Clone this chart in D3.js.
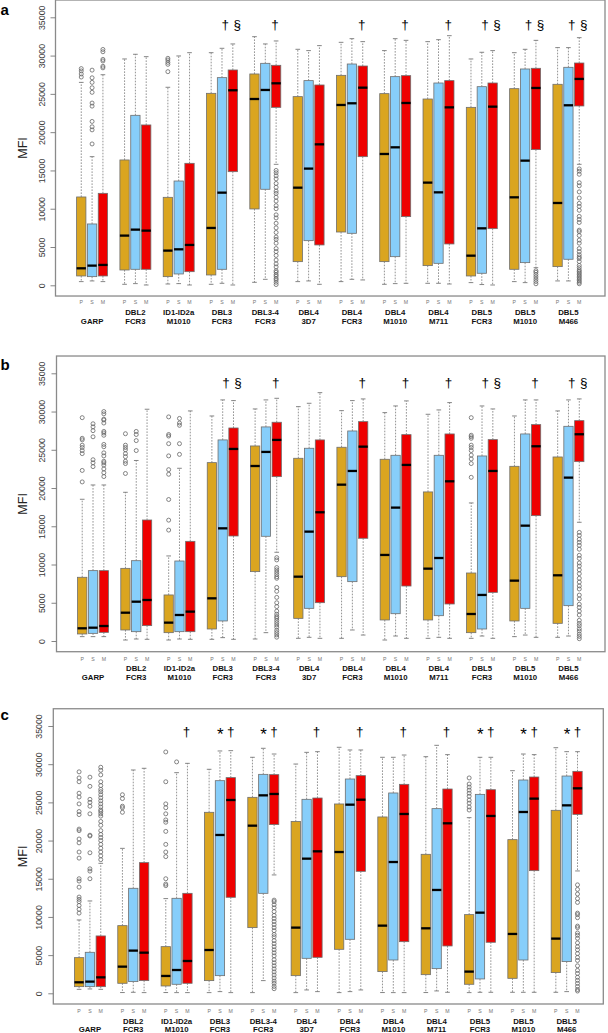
<!DOCTYPE html>
<html><head><meta charset="utf-8">
<script src="https://cdn.jsdelivr.net/npm/d3@7"></script>
<style>body{margin:0;background:#fff}svg{display:block}</style>
</head><body>
<script>
// ---------- DATA ----------
const groupLine1 = ["", "DBL2", "ID1-ID2a", "DBL3", "DBL3-4", "DBL4", "DBL4", "DBL4", "DBL4", "DBL5", "DBL5", "DBL5"];
const groupLine2 = ["GARP", "FCR3", "M1010", "FCR3", "FCR3", "3D7", "FCR3", "M1010", "M711", "FCR3", "M1010", "M466"];
const seriesNames = ["P", "S", "M"];
const yTicks = [0, 5000, 10000, 15000, 20000, 25000, 30000, 35000];

// Panel a (order: per group P,S,M)
const aLow  = [480,570,480, 130,220,40, 170,220,40, 130,260,40, 390,780,15800, 480,570,130, 480,780,700, 130,220,260, 260,260,170, 350,100,40, 480,350,2300, 570,570,15800];
const aQ1   = [1220,1130,1220, 2000,2090,2090, 1130,1480,1780, 1350,2090,14840, 9970,12540,23240, 3090,5830,5270, 6960,6790,16800, 3090,3740,8970, 2570,2870,5400, 1220,1570,7400, 2090,2960,17720, 2440,3400,23420];
const aMed  = [2220,2570,2660, 6490,7270,7140, 4530,4700,5270, 7490,12100,25470, 24330,25510,26380, 12750,15240,18410, 23550,23770,25810, 17150,18020,23810, 13410,12140,23240, 3870,7440,23330, 11490,16280,25770, 10750,23510,26950];
const aQ3   = [11535,8010,12010, 16370,22200,20940, 11490,13620,15930, 25070,27120,28120, 27600,28990,28730, 24640,26730,26160, 27420,28900,28640, 25030,27250,27380, 24330,26420,26730, 23240,25940,26420, 25680,28250,28340, 26250,28470,29030];
const aHigh = [26500,16800,27500, 29560,30170,29860, 25860,29950,30380, 30380,30950,31520, 32470,31520,31910, 30820,30650,31300, 31730,32210,31820, 30650,32210,31990, 31820,32080,32600, 29560,30430,30650, 30380,30820,31990, 31040,31040,32340];
const aOut = [
  [27200,27600,28000,28300], [18460,20300,20700,21400,23400,23800,25200,25800,26500,27100,28100], [28400,28600,29300,29500,30500,30800],
  [], [], [],
  [27900,28860,29120,29420,29640], [], [],
  [], [], [],
  [], [], [100,400,700,900,1200,1400,1700,1900,2400,2800,3300,3900,4400,4800,5500,6000,6300,6900,7500,8100,8800,9200,10000,10400,11000,11500,12000,12300,12800,13300,13900,14300,14700,15000],
  [], [], [],
  [], [], [],
  [], [], [],
  [], [], [],
  [], [], [],
  [], [], [200,500,800,1100,1400,1700,1900],
  [], [], [200,400,600,800,1000,1200,1400,1600,1800,2000,2300,2600,3100,3500,3700,4000,4400,4800,5500,5900,6500,7000,7200,8200,8600,9000,9800,10300,10700,11400,12200,13000,13400,14500,14900,15200]
];
const aMarks = ["", "", "", "†§", "†", "", "†", "†", "†", "†§", "†§", "†§"];

// Panel b
const bLow  = [570,570,570, 130,260,220, 130,260,220, 220,440,220, 260,1090,11600, 350,480,350, 350,1440,780, 130,650,350, 350,480,350, 350,650,350, 570,780,480, 480,650,15520];
const bQ1   = [920,1000,1130, 1440,1220,2010, 1090,1220,1220, 1570,2620,13730, 9070,13690,21490, 2960,4270,5010, 8410,7760,13430, 2750,3570,7190, 2750,3310,4840, 1090,1570,6360, 2620,4270,16390, 2310,4620,23450];
const bMed  = [1660,1740,1960, 3700,5140,5360, 2400,3400,3840, 5580,14730,25110, 22880,24720,26290, 8410,14300,16830, 20440,22230,25410, 11250,17440,23020, 9460,10850,20880, 3530,6020,22230, 7890,15080,25460, 8590,21360,27030];
const bQ3   = [8330,9200,9200, 9500,10500,15820, 6020,10460,13030, 23320,26290,27850, 25500,27990,28600, 23890,25200,26290, 25330,27460,28680, 23760,24280,26980, 19490,24280,27070, 8890,24190,26330, 22840,27070,28290, 24060,28070,28810];
const bHigh = [18530,20400,20400, 19440,23600,30300, 11120,22580,30080, 29420,31520,31430, 30340,31520,31730, 30640,31080,32470, 30120,31430,31650, 29860,30730,31390, 29640,30210,31170, 18050,30730,30340, 29420,31520,31520, 30080,31520,31650];
const bOut = [
  [20800,22300,24500,24900,25300,25600,26300,26500,29200], [22800,23300,23700,26700,27500,28000,28400], [21500,22000,22500,23000,23300,23500,24200,24600,25400,25700,26900,27200,27400,28500,28900,29000,29700,30000],
  [21900,23200,23500,24100,24500,25000,25300,25600,27100], [24900,26200,27000,27400], [],
  [14500,15800,18500,21800,22400,24200,25800,26800,27000,29300], [24400,25800,28200,28500,29100], [],
  [], [], [],
  [], [], [500,800,1100,1400,1800,2100,2400,2700,3000,3200,3500,3900,4500,5000,5700,6500,7000,8200,8400,8700,9000,9300,9600,10600,10900],
  [], [], [],
  [], [], [],
  [], [], [],
  [], [], [],
  [21400,23200,23800,24300,24900,25300,25600,26500,26700,26900,29200], [], [],
  [], [], [],
  [], [], [300,600,900,1300,1600,2000,2300,2700,3400,3900,4400,4800,5500,6000,6800,7200,7700,8200,8800,9300,9800,10200,10800,11200,12000,12500,12900,13300,13800,14200]
];
const bMarks = ["", "", "", "†§", "†", "", "†", "†", "†", "†§", "†", "†§"];

// Panel c
const cLow  = [520,570,520, 100,130,90, 100,90,90, 90,220,90, 90,1660,15500, 90,440,220, 90,220,440, 100,90,90, 100,310,130, 90,130,130, 130,130,130, 130,220,16020];
const cQ1   = [870,870,870, 1310,1530,1660, 960,1180,1310, 1660,2310,12570, 8600,13090,22100, 2310,4580,4710, 5760,7070,15970, 2840,4360,6760, 2440,3230,6200, 1180,1880,6680, 1960,4360,16060, 2710,4150,23430];
const cMed  = [1440,1530,2090, 3490,5590,5320, 2270,3050,4230, 5670,20730,25310, 21950,25920,26100, 8600,17630,18590, 18500,24700,25350, 8860,17190,23480, 8510,13530,22260, 2840,10560,23220, 7770,23740,25490, 7160,24610,26840];
const cQ3   = [4670,5370,7510, 8860,13750,17110, 6110,12440,13090, 23700,27840,28240, 25660,28670,28630, 22500,25400,25570, 24790,28060,28500, 23090,26230,27360, 18200,24180,26750, 10300,26050,26660, 20120,27930,28320, 23960,28450,29060];
const cHigh = [9600,12090,17020, 18980,29240,29460, 12400,28890,30110, 29330,31730,31770, 30900,32080,31330, 30020,31550,31640, 32210,31860,31860, 30900,30900,31200, 30980,32470,31250, 23000,30900,30900, 29150,31330,31250, 32160,31640,31640];
const cOut = [
  [10500,11000,11500,12000,12300,12600,13900,14700,15000,17700,18500,19700,20200,21300,21500,23400,23800,24800,25700,26200,27700,28200,29000],
  [15000,16000,16300,18400,20600,20700,23500,24500,25000,25400,27100,28300],
  [17500,18000,18500,19000,19500,20000,20400,20800,21300,22000,22500,23200,23500,23800,24000,24400,24800,25200,25600,26000,26400,26700,27200,27700,28600,29200,29600],
  [23700,24300,24500,25500,26000], [], [],
  [14100,14300,15000,17900,18500,19500,21200,22400,22700,23500,24300,24800,27700,31600], [30300], [],
  [], [], [],
  [], [], [600,900,1300,1600,2000,2400,2800,3200,3600,4000,4400,4900,5300,5700,6100,6500,6900,7400,7700,8200,8600,9000,9400,9800,10200,10700,11200,11600,12000,12200],
  [], [], [],
  [], [], [],
  [], [], [],
  [], [], [],
  [24000,24400,24900,25300,25800,26200,26600,27000,27400,28200], [], [],
  [], [], [],
  [], [], [300,500,900,1300,1700,2100,2600,3000,3600,4300,4700,5200,5700,6100,6600,7200,7600,7900,8600,8800,9900,10300,10500,11900,12400,13000,13600,14200]
];
const cMarks = ["", "", "†", "*†", "*†", "†", "†", "†", "†", "*†", "*†", "*†"];

// ---------- LAYOUT ----------
const W = 608, H = 1033;
const colors = {P: "#DAA520", S: "#87CEFA", M: "#EE0000"};
const panels = [
  {letter: "a", low: aLow, q1: aQ1, med: aMed, q3: aQ3, high: aHigh, out: aOut, marks: aMarks,
   l: 55.5, r: 605, y0: 285.3, y35: 17.3, letterY: 15, labX: 42, mfiX: 22.5, psmY: 302, l1Y: 312.5, l2Y: 321, markY: 28.5},
  {letter: "b", low: bLow, q1: bQ1, med: bMed, q3: bQ3, high: bHigh, out: bOut, marks: bMarks,
   l: 56.5, r: 605, y0: 641, y35: 373.3, letterY: 370, labX: 42, mfiX: 22.5, psmY: 658.5, l1Y: 668, l2Y: 677, markY: 387},
  {letter: "c", low: cLow, q1: cQ1, med: cMed, q3: cQ3, high: cHigh, out: cOut, marks: cMarks,
   l: 53.3, r: 603.3, y0: 993.3, y35: 726, letterY: 720, labX: 38.5, mfiX: 23, psmY: 1011, l1Y: 1021, l2Y: 1029.5, markY: 736}
];

const svg = d3.select("body").append("svg").attr("width", W).attr("height", H)
  .style("font-family", "'Liberation Sans', Arial, sans-serif");
svg.append("rect").attr("width", W).attr("height", H).attr("fill", "#fff");

panels.forEach(p => {
  const x = d3.scaleLinear().domain([-1.38, 49.38]).range([p.l, p.r]);
  const y = d3.scaleLinear().domain([0, 35000]).range([p.y0, p.y35]);
  const top = y(37260), bot = y(-1400);
  const g = svg.append("g");
  const bw = x(0.86) - x(0);      // box width
  const cw = bw * 0.5;            // staple width

  // frame
  g.append("rect").attr("x", p.l).attr("y", top).attr("width", p.r - p.l).attr("height", bot - top)
    .attr("fill", "none").attr("stroke", "#8a8a8a").attr("stroke-width", 1.3);

  // y axis
  const ax = g.append("g").attr("transform", `translate(${p.l},0)`)
    .call(d3.axisLeft(y).tickValues(yTicks).tickSize(5).tickFormat(d3.format("d")));
  ax.select(".domain").remove();
  ax.selectAll(".tick line").attr("stroke", "#777").attr("stroke-width", 0.9);
  ax.selectAll(".tick text")
    .attr("x", null).attr("dy", null)
    .attr("transform", `translate(${p.labX - p.l},0) rotate(-90)`)
    .attr("text-anchor", "middle").attr("dominant-baseline", "central")
    .attr("font-size", 8.8).attr("fill", "#3a3a3a").attr("font-family", "'Liberation Sans', Arial, sans-serif");

  // MFI label
  g.append("text").attr("transform", `translate(${p.mfiX},${(top + bot) / 2}) rotate(-90)`)
    .attr("text-anchor", "middle").attr("dominant-baseline", "central")
    .attr("font-size", 12.5).attr("fill", "#222").text("MFI");

  // panel letter
  g.append("text").attr("x", 0.5).attr("y", p.letterY).attr("font-size", 15).attr("font-weight", "bold")
    .attr("fill", "#000").text(p.letter);

  // boxes
  const items = d3.range(36).map(i => ({
    i, s: seriesNames[i % 3], pos: Math.floor(i / 3) * 4 + (i % 3) + 1,
    low: p.low[i], q1: p.q1[i], med: p.med[i], q3: p.q3[i], high: p.high[i], out: p.out[i]
  }));

  const bx = g.selectAll(".bx").data(items).enter().append("g");
  bx.append("line").attr("x1", d => x(d.pos)).attr("x2", d => x(d.pos))
    .attr("y1", d => y(d.q3)).attr("y2", d => y(d.high))
    .attr("stroke", "#777").attr("stroke-width", 0.8).attr("stroke-dasharray", "1.6,1.4");
  bx.append("line").attr("x1", d => x(d.pos)).attr("x2", d => x(d.pos))
    .attr("y1", d => y(d.q1)).attr("y2", d => y(d.low))
    .attr("stroke", "#777").attr("stroke-width", 0.8).attr("stroke-dasharray", "1.6,1.4");
  bx.append("line").attr("x1", d => x(d.pos) - cw / 2).attr("x2", d => x(d.pos) + cw / 2)
    .attr("y1", d => y(d.high)).attr("y2", d => y(d.high)).attr("stroke", "#777").attr("stroke-width", 0.9);
  bx.append("line").attr("x1", d => x(d.pos) - cw / 2).attr("x2", d => x(d.pos) + cw / 2)
    .attr("y1", d => y(d.low)).attr("y2", d => y(d.low)).attr("stroke", "#777").attr("stroke-width", 0.9);
  bx.append("rect").attr("x", d => x(d.pos) - bw / 2).attr("width", bw)
    .attr("y", d => y(d.q3)).attr("height", d => y(d.q1) - y(d.q3))
    .attr("fill", d => colors[d.s]).attr("stroke", "#6e6e6e").attr("stroke-width", 0.8);
  bx.append("line").attr("x1", d => x(d.pos) - bw / 2).attr("x2", d => x(d.pos) + bw / 2)
    .attr("y1", d => y(d.med)).attr("y2", d => y(d.med)).attr("stroke", "#000").attr("stroke-width", 2.3);
  bx.selectAll("circle").data(d => d.out.map(v => ({pos: d.pos, v}))).enter().append("circle")
    .attr("cx", d => x(d.pos)).attr("cy", d => y(d.v)).attr("r", 2)
    .attr("fill", "none").attr("stroke", "#666").attr("stroke-width", 0.8);

  // x labels P S M
  g.selectAll(".psm").data(items).enter().append("text")
    .attr("x", d => x(d.pos)).attr("y", p.psmY).attr("text-anchor", "middle").attr("dominant-baseline", "central")
    .attr("font-size", 5.2).attr("fill", "#777").text(d => d.s);

  // group labels
  groupLine1.forEach((t, k) => {
    const cx = x(k * 4 + 2);
    g.append("text").attr("x", cx).attr("y", p.l1Y).attr("text-anchor", "middle").attr("dominant-baseline", "central")
      .attr("font-size", 7.8).attr("font-weight", "bold").attr("fill", "#111").text(t);
    g.append("text").attr("x", cx).attr("y", p.l2Y).attr("text-anchor", "middle").attr("dominant-baseline", "central")
      .attr("font-size", 7.8).attr("font-weight", "bold").attr("fill", "#111").text(groupLine2[k]);
  });

  // significance marks
  p.marks.forEach((m, k) => {
    if (!m) return;
    const mx = x(k * 4 + 3);
    let sy = [];
    if (m === "†") sy = [["†", mx - 1]];
    else if (m === "†§") sy = [["†", mx - 7.5], ["§", mx + 4.5]];
    else if (m === "*†") sy = [["*", mx - 10.5], ["†", mx]];
    sy.forEach(([ch, sx]) => {
      g.append("text").attr("x", sx).attr("y", ch === "*" ? p.markY + 4 : p.markY)
        .attr("text-anchor", "middle").attr("font-size", ch === "*" ? 17 : 13.5)
        .attr("fill", "#000").text(ch);
    });
  });
});
</script>
</body></html>
